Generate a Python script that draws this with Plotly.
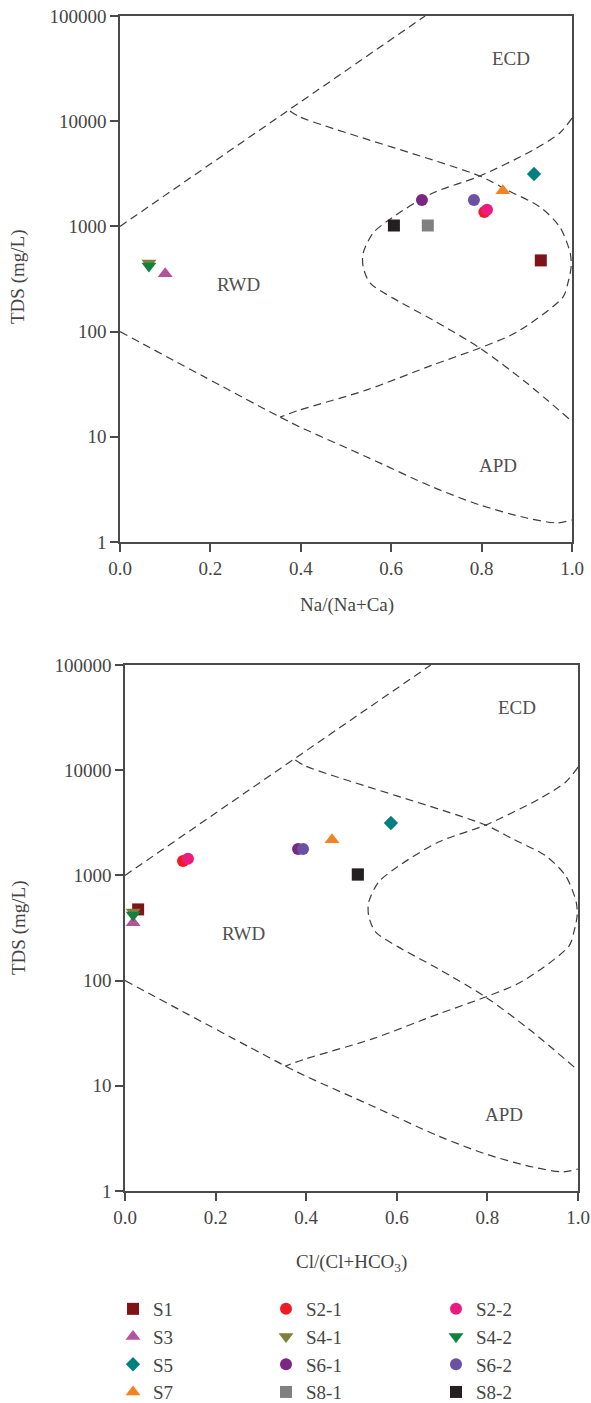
import plotly.graph_objects as go

W, H = 591, 1403

# Samples
samples = ["S1", "S2-1", "S2-2", "S3", "S4-1", "S4-2",
           "S5", "S6-1", "S6-2", "S7", "S8-1", "S8-2"]
tds = [475, 1370, 1440, 355, 450, 420, 3150, 1780, 1780, 2180, 1020, 1020]
na_ratio = [0.931, 0.806, 0.812, 0.100, 0.064, 0.064,
            0.916, 0.668, 0.783, 0.847, 0.681, 0.606]
cl_ratio = [0.029, 0.128, 0.139, 0.018, 0.018, 0.018,
            0.587, 0.382, 0.393, 0.457, 0.514, 0.514]

colors = ["#7E1416", "#ED1C24", "#EC1B7F", "#B4529F", "#7F7F3C", "#10823F",
          "#008080", "#7B2683", "#6A51A3", "#F58220", "#808080", "#231F20"]
symbols = ["square", "circle", "circle", "triangle-up", "triangle-down",
           "triangle-down", "diamond", "circle", "circle", "triangle-up",
           "square", "square"]
sizes = [12, 12, 12, 13, 13, 13, 11, 12, 12, 13, 12, 12]

# Gibbs boundary curves: (ratio, TDS mg/L)
outer_upper_x = [0.0, 0.675]
outer_upper_tds = [1000, 100000]

evap_x = [0.376, 0.398, 0.796, 0.856, 0.929, 0.973, 0.996, 0.998,
          0.991, 0.980, 0.878, 0.796, 0.692, 0.546, 0.398, 0.354]
evap_tds = [12500, 10970, 3010, 2220, 1530, 987, 558, 411,
            290, 213, 99, 69.8, 48.2, 27.9, 18.0, 15.4]

rock_x = [1.0, 0.973, 0.914, 0.796, 0.692, 0.604, 0.560, 0.538, 0.538,
          0.553, 0.604, 0.692, 0.796, 0.900, 0.996]
rock_tds = [10700, 7730, 5320, 3010, 2075, 1228, 865, 558, 411,
            290, 208, 129, 69.8, 32.4, 14.5]

outer_lower_x = [0.0, 0.354, 0.398, 0.546, 0.692, 0.796, 0.900, 0.967, 1.0]
outer_lower_tds = [100, 15.4, 12.4, 6.43, 3.33, 2.25, 1.69, 1.52, 1.62]

x_ticks = [0.0, 0.2, 0.4, 0.6, 0.8, 1.0]
y_ticks = [1, 10, 100, 1000, 10000, 100000]
y_ticktext = ["1", "10", "100", "1000", "10000", "100000"]

region_labels = ["ECD", "RWD", "APD"]
region_x = [0.865, 0.262, 0.836]
region_logtds = [4.6, 2.445, 0.73]

FONT = "Liberation Serif, Times New Roman, serif"
TXT = "#454545"
AX = "#4a4a4a"


def px_x(p):
    return p / W


def px_y(p):
    return 1 - p / H


fig = go.Figure()

boundaries = [
    (outer_upper_x, outer_upper_tds, "linear"),
    (evap_x, evap_tds, "spline"),
    (rock_x, rock_tds, "spline"),
    (outer_lower_x, outer_lower_tds, "spline"),
]

for xa, ya in [("x", "y"), ("x2", "y2")]:
    for bx, by, shape in boundaries:
        fig.add_trace(go.Scatter(
            x=bx, y=by, mode="lines", xaxis=xa, yaxis=ya,
            line=dict(color="#3d3d3d", width=1.2, dash="8px,5px",
                      shape=shape, smoothing=0.8),
            showlegend=False, hoverinfo="skip"))

legend_ids = ["legend", "legend2", "legend3"]
for i, name in enumerate(samples):
    marker = dict(symbol=symbols[i], color=colors[i], size=sizes[i],
                  line=dict(width=0))
    fig.add_trace(go.Scatter(
        x=[na_ratio[i]], y=[tds[i]], mode="markers", name=name,
        xaxis="x", yaxis="y", marker=marker,
        legend=legend_ids[i % 3], showlegend=True))
    fig.add_trace(go.Scatter(
        x=[cl_ratio[i]], y=[tds[i]], mode="markers", name=name,
        xaxis="x2", yaxis="y2", marker=marker, showlegend=False))

axis_common = dict(
    showline=True, linecolor=AX, linewidth=1.5, mirror=True,
    ticks="outside", ticklen=8, tickwidth=1.5, tickcolor=AX,
    showgrid=False, zeroline=False,
    tickfont=dict(family=FONT, size=19, color=TXT),
)

xcfg = dict(axis_common, range=[0, 1], tickvals=x_ticks, tickformat=".1f")
ycfg = dict(axis_common, type="log", range=[0, 5],
            tickvals=y_ticks, ticktext=y_ticktext)

fig.update_layout(
    xaxis=dict(xcfg, domain=[px_x(120), px_x(572)], anchor="y"),
    yaxis=dict(ycfg, domain=[px_y(542), px_y(16)], anchor="x"),
    xaxis2=dict(xcfg, domain=[px_x(125), px_x(578)], anchor="y2"),
    yaxis2=dict(ycfg, domain=[px_y(1191), px_y(665)], anchor="x2"),
)

annotations = []
for xref, yref in [("x", "y"), ("x2", "y2")]:
    for lab, lx, ly in zip(region_labels, region_x, region_logtds):
        annotations.append(dict(
            text=lab, x=lx, y=ly, xref=xref, yref=yref, showarrow=False,
            xanchor="center", yanchor="middle",
            font=dict(family=FONT, size=19, color="#505050")))

titles = [
    ("TDS (mg/L)", 18, 277, -90),
    ("TDS (mg/L)", 19, 928, -90),
    ("Na/(Na+Ca)", 347, 605, 0),
    ("Cl/(Cl+HCO<sub>3</sub>)", 351, 1263, 0),
]
for text, tx, ty, ang in titles:
    annotations.append(dict(
        text=text, x=px_x(tx), y=px_y(ty), xref="paper", yref="paper",
        showarrow=False, xanchor="center", yanchor="middle", textangle=ang,
        font=dict(family=FONT, size=19, color=TXT)))

legend_style = dict(
    font=dict(family=FONT, size=19, color=TXT),
    bgcolor="rgba(0,0,0,0)", borderwidth=0,
    orientation="v", xanchor="left", yanchor="top",
    xref="paper", yref="paper",
)
legend_left = [113, 266, 436]
legend_top = 1290

fig.update_layout(
    width=W, height=H,
    margin=dict(l=0, r=0, t=0, b=0, autoexpand=False),
    paper_bgcolor="white", plot_bgcolor="white",
    annotations=annotations,
    legend=dict(legend_style, x=px_x(legend_left[0]), y=px_y(legend_top)),
    legend2=dict(legend_style, x=px_x(legend_left[1]), y=px_y(legend_top)),
    legend3=dict(legend_style, x=px_x(legend_left[2]), y=px_y(legend_top)),
)

fig.write_html("out.html")
